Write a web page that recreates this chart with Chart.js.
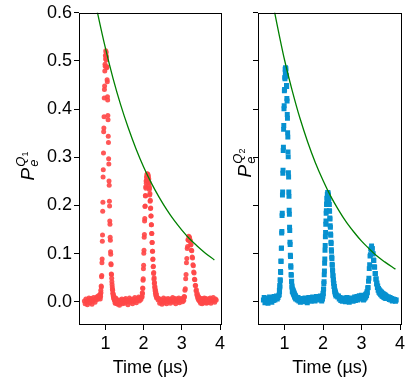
<!DOCTYPE html>
<html>
<head>
<meta charset="utf-8">
<script src="https://cdn.jsdelivr.net/npm/chart.js@4.4.1/dist/chart.umd.min.js"></script>
<style>
  html, body { margin: 0; padding: 0; background: #fff; }
  #wrap { position: relative; width: 415px; height: 384px; }
  canvas { position: absolute; top: 0; }
</style>
</head>
<body>
<div id="wrap">
  <canvas id="q1" width="232" height="384" style="left:0"></canvas>
  <canvas id="q2" width="183" height="384" style="left:232px"></canvas>
</div>
<script>
// time axis (µs), one list per stretch of the trace
const time = [
  0.45,0.47,0.49,0.51,0.53,0.55,0.57,0.59,0.61,0.63,0.65,0.67,0.69,0.71,0.73,0.75,0.77,0.79,0.81,0.83,0.85,
  0.86,0.865,0.87,0.875,0.88,0.885,0.89,0.895,0.9,0.905,0.91,0.915,0.92,0.925,0.93,0.935,0.94,0.945,0.95,0.955,
  0.96,0.965,0.97,0.975,0.98,0.985,0.99,0.995,1.0,1.005,1.01,1.015,1.02,
  1.025,1.03,1.035,1.04,1.045,1.05,1.055,1.06,1.065,1.07,1.075,1.08,1.085,1.09,1.095,1.1,1.105,1.11,1.115,1.12,
  1.125,1.13,1.135,1.14,1.145,1.15,1.155,1.16,1.165,1.17,1.175,1.18,1.185,1.19,1.195,1.2,1.205,1.21,1.215,1.22,
  1.225,1.23,1.235,1.24,1.245,1.25,1.255,1.26,1.265,1.27,1.275,1.28,1.285,1.29,1.295,
  1.31,1.33,1.35,1.37,1.39,1.41,1.43,1.45,1.47,1.49,1.51,1.53,1.55,1.57,1.59,1.61,1.63,1.65,1.67,1.69,1.71,1.73,1.75,1.77,1.79,1.81,1.83,1.85,1.87,1.89,1.91,1.93,1.95,
  1.96,1.965,1.97,1.975,1.98,1.985,1.99,1.995,2.0,
  2.005,2.01,2.015,2.02,2.025,2.03,2.035,2.04,2.045,2.05,2.055,2.06,2.065,2.07,2.075,2.08,2.085,2.09,2.095,2.1,
  2.105,2.11,2.115,2.12,2.125,2.13,2.135,2.14,2.145,2.15,2.155,2.16,2.165,2.17,2.175,2.18,2.185,2.19,2.195,2.2,
  2.205,2.21,2.215,2.22,2.225,2.23,2.235,2.24,2.245,2.25,2.255,2.26,2.265,2.27,2.275,2.28,2.285,2.29,2.295,2.3,
  2.305,2.31,2.315,2.32,2.325,2.33,2.335,2.34,
  2.36,2.38,2.4,2.42,2.44,2.46,2.48,2.5,2.52,2.54,2.56,2.58,2.6,2.62,2.64,2.66,2.68,2.7,2.72,2.74,
  2.76,2.78,2.8,2.82,2.84,2.86,2.88,2.9,2.92,2.94,2.96,2.98,3.0,3.02,
  3.04,3.05,3.06,3.07,3.08,3.09,3.1,3.11,3.12,3.13,3.14,3.15,3.16,3.17,3.18,3.19,3.2,3.21,3.22,3.23,
  3.24,3.25,3.26,3.27,3.28,3.29,3.3,3.31,3.32,3.33,3.34,3.35,3.36,3.37,3.38,3.39,3.4,3.41,3.42,3.43,
  3.44,3.45,3.46,3.47,3.48,3.49,3.5,3.51,3.52,3.53,3.54,3.55,3.56,3.57,3.58,3.59,3.6,3.61,3.62,3.63,3.64,
  3.66,3.68,3.7,3.72,3.74,3.76,3.78,3.8,3.82,3.84,3.86,3.88,3.9
];

// excited-state population of Q1 (red) and Q2 (blue)
const pQ1 = [
  0.002,-0.004,0.006,0.001,-0.006,0.004,0.008,-0.002,0.003,0.007,-0.005,0.002,0.009,0.004,-0.001,0.006,0.010,0.005,0.012,0.008,0.015,
  0.011,0.006,0.016,0.011,0.024,0.019,0.033,0.031,0.052,0.055,0.081,0.089,0.126,0.139,0.188,0.207,0.259,0.274,0.309,0.353,
  0.361,0.384,0.423,0.441,0.448,0.479,0.493,0.489,0.511,0.504,0.521,0.513,0.518,
  0.502,0.509,0.486,0.488,0.461,0.457,0.426,0.419,0.387,0.378,0.344,0.331,0.297,0.286,0.251,0.242,0.209,0.199,0.168,0.161,
  0.134,0.128,0.104,0.099,0.079,0.077,0.058,0.057,0.049,0.042,0.036,0.031,0.026,0.024,0.018,0.017,0.012,0.014,0.008,0.011,
  0.006,0.009,0.004,0.007,0.002,0.006,-0.003,0.005,0.001,0.008,-0.002,0.004,0.000,0.006,-0.004,
  0.003,-0.005,0.002,-0.007,0.004,-0.002,0.006,-0.004,0.001,0.005,-0.003,0.007,0.000,0.004,-0.006,0.003,0.008,-0.001,0.005,0.002,-0.004,0.006,0.001,0.009,0.003,-0.002,0.007,0.004,0.010,0.002,0.008,0.005,0.011,
  0.010,0.019,0.017,0.029,0.028,0.045,0.048,0.069,0.076,
  0.101,0.107,0.134,0.140,0.168,0.173,0.198,0.199,0.221,0.220,0.239,0.236,0.251,0.246,0.259,0.253,0.264,0.257,0.266,0.259,
  0.265,0.257,0.264,0.254,0.260,0.249,0.255,0.242,0.247,0.233,0.237,0.222,0.225,0.209,0.211,0.194,0.195,0.178,0.178,0.160,
  0.160,0.142,0.142,0.123,0.123,0.105,0.105,0.088,0.089,0.073,0.074,0.059,0.061,0.047,0.050,0.038,0.040,0.030,0.032,0.023,
  0.026,0.018,0.022,0.014,0.018,0.011,0.015,0.008,
  0.009,0.004,0.007,-0.003,0.005,0.001,-0.005,0.004,0.008,-0.002,0.003,0.006,-0.004,0.002,0.007,0.000,0.005,-0.003,0.006,0.002,
  0.009,-0.001,0.004,0.007,-0.004,0.003,0.006,0.001,0.008,-0.002,0.005,0.003,0.007,0.000,
  0.006,0.003,0.011,0.010,0.024,0.027,0.048,0.057,0.081,0.090,0.111,0.115,0.129,0.128,0.136,0.131,0.134,0.126,0.128,0.118,
  0.119,0.107,0.106,0.093,0.091,0.077,0.075,0.062,0.060,0.047,0.046,0.034,0.034,0.023,0.025,0.015,0.018,0.009,0.013,0.005,
  0.010,0.003,0.008,0.001,0.006,-0.003,0.005,0.002,0.007,-0.004,0.004,0.001,0.006,-0.002,0.003,0.008,-0.001,0.005,0.002,0.007,-0.003,
  0.004,-0.002,0.006,0.001,0.008,-0.003,0.005,0.002,0.009,0.003,-0.001,0.006,0.004
];

const pQ2 = [
  0.004,0.009,-0.002,0.006,0.001,0.007,-0.003,0.005,0.010,0.002,0.006,-0.001,0.008,0.003,0.011,0.004,0.007,0.012,0.006,0.009,0.013,
  0.015,0.024,0.021,0.034,0.031,0.046,0.044,0.063,0.061,0.085,0.084,0.111,0.112,0.143,0.146,0.179,0.184,0.222,0.228,0.267,
  0.273,0.314,0.321,0.358,0.366,0.401,0.407,0.438,0.441,0.466,0.463,0.483,0.476,
  0.486,0.479,0.484,0.468,0.470,0.449,0.447,0.422,0.417,0.389,0.381,0.351,0.342,0.311,0.301,0.268,0.259,0.228,0.219,0.190,
  0.182,0.155,0.148,0.124,0.119,0.097,0.094,0.075,0.072,0.057,0.055,0.042,0.043,0.031,0.033,0.022,0.027,0.021,0.025,0.019,
  0.023,0.017,0.021,0.015,0.019,0.013,0.017,0.011,0.015,0.009,0.013,0.008,0.012,0.006,0.010,
  0.008,0.004,0.009,0.002,0.006,-0.001,0.005,0.003,0.007,0.000,0.004,0.008,0.002,0.006,-0.002,0.005,0.009,0.003,0.007,0.001,0.006,0.010,0.004,0.008,0.002,0.007,0.011,0.005,0.009,0.004,0.008,0.012,0.006,
  0.006,0.002,0.008,0.005,0.010,0.007,0.013,0.011,0.018,
  0.017,0.026,0.027,0.038,0.042,0.056,0.064,0.080,0.089,0.107,0.117,0.135,0.144,0.161,0.168,0.184,0.189,0.202,0.204,0.215,
  0.214,0.223,0.219,0.227,0.220,0.226,0.218,0.222,0.212,0.214,0.202,0.202,0.189,0.188,0.174,0.172,0.158,0.155,0.141,0.138,
  0.124,0.121,0.108,0.105,0.093,0.090,0.078,0.076,0.066,0.064,0.055,0.054,0.046,0.045,0.039,0.038,0.032,0.032,0.026,0.027,
  0.021,0.023,0.018,0.020,0.015,0.017,0.012,0.015,
  0.013,0.010,0.012,0.006,0.009,0.003,0.007,0.001,0.006,0.004,0.008,0.000,0.005,0.009,0.002,0.006,-0.001,0.004,0.008,0.003,
  0.007,0.001,0.005,0.010,0.003,0.006,0.011,0.004,0.008,0.013,0.006,0.010,0.014,0.008,
  0.009,0.004,0.010,0.006,0.013,0.008,0.015,0.010,0.017,0.013,0.021,0.019,0.029,0.030,0.043,0.049,0.069,0.077,0.095,0.098,
  0.110,0.108,0.116,0.109,0.111,0.100,0.100,0.087,0.086,0.073,0.072,0.059,0.059,0.047,0.048,0.037,0.039,0.030,0.033,0.024,
  0.028,0.020,0.025,0.018,0.023,0.016,0.021,0.014,0.020,0.012,0.018,0.011,0.017,0.010,0.016,0.009,0.015,0.008,0.014,0.007,0.012,
  0.011,0.007,0.010,0.005,0.009,0.004,0.007,0.002,0.006,0.003,0.005,0.001,0.004
];

// decay envelopes (green)
const fitTimeQ1 = [0.75, 0.8, 1.0, 1.2, 1.4, 1.6, 1.8, 2.0, 2.2, 2.4, 2.6, 2.8, 3.0, 3.2, 3.4, 3.6, 3.85];
const fitQ1 = [0.617, 0.598, 0.527, 0.464, 0.409, 0.361, 0.318, 0.280, 0.247, 0.218, 0.192, 0.169, 0.149, 0.131, 0.116, 0.102, 0.087];
const fitTimeQ2 = [0.70, 0.75, 1.0, 1.2, 1.4, 1.6, 1.8, 2.0, 2.2, 2.4, 2.6, 2.8, 3.0, 3.2, 3.4, 3.6, 3.88];
const fitQ2 = [0.619, 0.598, 0.502, 0.438, 0.381, 0.332, 0.289, 0.252, 0.219, 0.191, 0.166, 0.145, 0.126, 0.110, 0.095, 0.083, 0.068];

const xTicks = [1, 2, 3, 4];
const yTicks = [0, 0.1, 0.2, 0.3, 0.4, 0.5, 0.6];

const FONT = '"Liberation Sans", Arial, sans-serif';

function toPoints(xs, ys) {
  const n = Math.min(xs.length, ys.length);
  const out = [];
  for (let i = 0; i < n; i++) out.push({ x: xs[i], y: ys[i] });
  return out;
}

// black box round the plot area
const boxPlugin = {
  id: 'box',
  afterDraw(chart) {
    const { ctx, chartArea: a } = chart;
    ctx.save();
    ctx.strokeStyle = '#000';
    ctx.lineWidth = 1;
    const l = Math.round(a.left) + 0.5, t = Math.round(a.top) + 0.5;
    const r = Math.round(a.right) - 0.5, b = Math.round(a.bottom) - 0.5;
    ctx.strokeRect(l, t, r - l, b - t);
    ctx.restore();
  }
};

// rotated y label P_e^{Q_n}
function labelPlugin(n, baseX, midY) {
  return {
    id: 'plabel',
    afterDraw(chart) {
      const ctx = chart.ctx;
      ctx.save();
      ctx.fillStyle = '#000';
      ctx.translate(baseX, midY);
      ctx.rotate(-Math.PI / 2);
      ctx.textBaseline = 'alphabetic';
      ctx.font = 'italic 19px ' + FONT;
      const wP = ctx.measureText('P').width;
      ctx.font = 'italic 13px ' + FONT;
      const wQ = ctx.measureText('Q').width;
      const wE = ctx.measureText('e').width;
      ctx.font = '9px ' + FONT;
      const wN = ctx.measureText(String(n)).width;
      const total = wP + Math.max(wE, wQ + wN) + 1;
      const x0 = -total / 2;
      ctx.font = 'italic 19px ' + FONT;
      ctx.fillText('P', x0, 0);
      ctx.font = 'italic 13px ' + FONT;
      ctx.fillText('e', x0 + wP + 1, 4);
      ctx.fillText('Q', x0 + wP + 1, -9);
      ctx.font = '9px ' + FONT;
      ctx.fillText(String(n), x0 + wP + 1 + wQ, -6);
      ctx.restore();
    }
  };
}

function makeChart(id, values, fitT, fitV, look, opts) {
  const ctx = document.getElementById(id).getContext('2d');
  return new Chart(ctx, {
    type: 'scatter',
    data: {
      datasets: [
        {
          type: 'line',
          data: toPoints(fitT, fitV),
          borderColor: '#008000',
          borderWidth: 1.3,
          pointRadius: 0,
          cubicInterpolationMode: 'monotone',
          fill: false,
          order: 0
        },
        {
          data: toPoints(time, values),
          backgroundColor: look.color,
          borderWidth: 0,
          pointStyle: look.style,
          pointRadius: look.radius,
          order: 1
        }
      ]
    },
    options: {
      responsive: false,
      animation: false,
      devicePixelRatio: 1,
      events: [],
      layout: { padding: { left: 0, right: opts.padRight, top: 11, bottom: 0 } },
      plugins: { legend: { display: false }, tooltip: { enabled: false } },
      scales: {
        x: {
          type: 'linear',
          min: 0.31,
          max: 4.05,
          afterFit: s => { s.height = 59; },
          afterBuildTicks: s => { s.ticks = xTicks.map(v => ({ value: v })); },
          ticks: {
            color: '#000',
            font: { family: FONT, size: 18 },
            padding: 3,
            maxRotation: 0,
            callback: v => String(v)
          },
          grid: { drawOnChartArea: false, drawTicks: true, tickLength: 5, color: '#000' },
          border: { display: false },
          title: {
            display: true,
            text: 'Time (µs)',
            color: '#000',
            font: { family: FONT, size: 18 },
            padding: { top: 0, bottom: 5 }
          }
        },
        y: {
          min: -0.048,
          max: 0.6,
          afterFit: s => { s.width = opts.yWidth; },
          afterBuildTicks: s => { s.ticks = yTicks.map(v => ({ value: v })); },
          ticks: {
            color: '#000',
            font: { family: FONT, size: 18 },
            padding: 2,
            callback: v => opts.showY ? v.toFixed(1) : ''
          },
          grid: { drawOnChartArea: false, drawTicks: true, tickLength: 5, color: '#000' },
          border: { display: false }
        }
      }
    },
    plugins: [boxPlugin, labelPlugin(opts.n, opts.labelX, opts.labelY)]
  });
}

makeChart('q1', pQ1, fitTimeQ1, fitQ1,
  { color: 'rgba(255, 72, 72, 0.92)', style: 'circle', radius: 2.5 },
  { padRight: 10, yWidth: 79, showY: true, n: 1, labelX: 34, labelY: 166 });

makeChart('q2', pQ2, fitTimeQ2, fitQ2,
  { color: '#0791d0', style: 'rect', radius: 3.5 },
  { padRight: 13, yWidth: 26, showY: false, n: 2, labelX: 19, labelY: 163 });
</script>
</body>
</html>
